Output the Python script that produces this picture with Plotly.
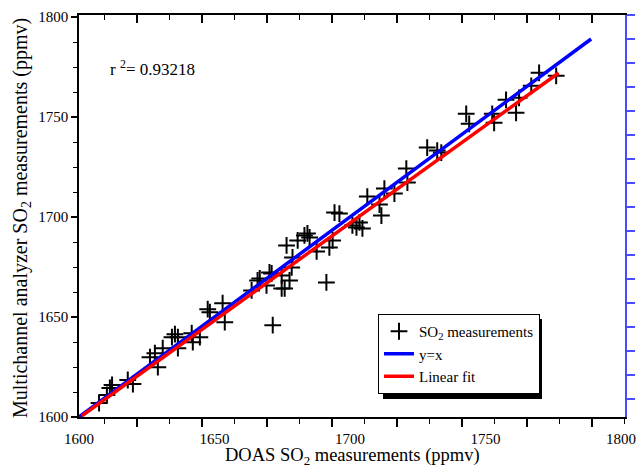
import plotly.graph_objects as go

# DOAS (x) vs multichannel analyzer (y) SO2 measurements, ppmv
doas_so2 = [1607.4, 1610.3, 1611.4, 1612.2, 1618.0, 1619.9, 1626.2, 1628.0, 1629.1, 1630.9,
            1634.3, 1635.4, 1636.5, 1636.5, 1641.6, 1642.0, 1644.6, 1647.5, 1648.3, 1653.0,
            1653.8, 1671.5, 1663.7, 1665.9, 1666.7, 1669.2, 1670.3, 1671.1, 1674.8, 1674.8,
            1675.9, 1677.7, 1678.5, 1676.6, 1678.8, 1680.7, 1683.2, 1684.3, 1685.1, 1687.7,
            1691.3, 1692.4, 1693.6, 1694.3, 1696.1, 1700.9, 1702.4, 1703.5, 1704.6, 1706.4,
            1710.9, 1711.6, 1712.7, 1716.4, 1720.8, 1721.2, 1728.5, 1732.2, 1733.7, 1742.9,
            1744.0, 1752.5, 1753.2, 1757.6, 1761.3, 1762.4, 1766.9, 1769.8, 1776.1]
analyzer_so2 = [1607.0, 1611.0, 1614.5, 1616.0, 1618.5, 1616.5, 1629.9, 1631.9, 1624.9, 1634.4,
                1639.9, 1641.4, 1639.9, 1634.4, 1641.9, 1637.4, 1639.9, 1653.9, 1652.4, 1656.9,
                1647.4, 1645.9, 1663.3, 1668.3, 1669.3, 1665.8, 1672.3, 1671.8, 1670.8, 1664.3,
                1664.3, 1668.3, 1674.8, 1685.8, 1679.8, 1688.3, 1690.8, 1691.8, 1689.8, 1682.8,
                1667.3, 1684.8, 1688.3, 1702.2, 1701.7, 1695.8, 1694.8, 1697.3, 1694.3, 1710.2,
                1706.2, 1700.7, 1714.2, 1711.7, 1724.2, 1717.2, 1734.7, 1733.2, 1732.2, 1751.6,
                1746.6, 1751.6, 1747.1, 1758.6, 1752.1, 1759.6, 1765.6, 1772.1, 1770.6]

# reference lines (end points)
yx_x = [1600, 1789]
yx_y = [1600, 1789]
fit_x = [1601, 1777]
fit_y = [1600.5, 1772]

r2_text = "r <sup>2</sup>= 0.93218"
x_title = "DOAS SO<sub>2</sub> measurements (ppmv)"
y_title = "Multichannel analyzer SO<sub>2</sub> measurements (ppmv)"
tick_vals = [1600, 1650, 1700, 1750, 1800]
tick_text = ["1600", "1650", "1700", "1750", "1800"]

FONT = "Liberation Serif, Times New Roman, serif"
PW, PH, L, B = 546, 402, 79, 51   # plot area size and margins (px)
LEG_L, LEG_T, LEG_W, LEG_H, SH = 378, 314, 159, 80, 5   # legend box and shadow offset (px)

fig = go.Figure()
fig.add_trace(go.Scatter(x=doas_so2, y=analyzer_so2, mode="markers",
                         name="SO<sub>2</sub> measurements",
                         marker=dict(symbol="cross-thin", size=12, color="black",
                                     line=dict(width=2, color="black"))))
fig.add_trace(go.Scatter(x=yx_x, y=yx_y, mode="lines", name="y=x",
                         line=dict(color="#0000ff", width=3.5)))
fig.add_trace(go.Scatter(x=fit_x, y=fit_y, mode="lines", name="Linear fit",
                         line=dict(color="#ff0000", width=3.5)))
# empty traces to register the decorative tick axes
fig.add_trace(go.Scatter(x=[], y=[], xaxis="x2", yaxis="y", showlegend=False, hoverinfo="skip"))
fig.add_trace(go.Scatter(x=[], y=[], xaxis="x3", yaxis="y", showlegend=False, hoverinfo="skip"))
fig.add_trace(go.Scatter(x=[], y=[], xaxis="x", yaxis="y2", showlegend=False, hoverinfo="skip"))

fig.update_layout(
    width=636, height=468,
    margin=dict(l=L, r=11, t=15, b=B, autoexpand=False),
    paper_bgcolor="white", plot_bgcolor="white",
    font=dict(family=FONT, color="black"),
    showlegend=True,
    xaxis=dict(range=[1600, 1801.5], tickvals=tick_vals, ticktext=tick_text,
               ticks="outside", ticklen=7, tickcolor="rgba(0,0,0,0)",
               showline=True, linecolor="black", linewidth=1.5,
               showgrid=False, zeroline=False, automargin=False,
               tickfont=dict(size=15, family=FONT)),
    xaxis2=dict(overlaying="x", side="bottom", range=[-0.892, 7.508], dtick=1, tick0=0,
                ticks="outside", ticklen=9, tickwidth=1.5, tickcolor="black",
                minor=dict(dtick=0.5, tick0=0, ticks="outside", ticklen=6, tickwidth=1.2,
                           tickcolor="black"),
                showticklabels=False, showline=False, showgrid=False, zeroline=False,
                automargin=False),
    xaxis3=dict(overlaying="x", side="top", range=[-0.892, 7.508], dtick=1, tick0=0,
                ticks="inside", ticklen=8, tickwidth=1.5, tickcolor="black",
                minor=dict(dtick=0.5, tick0=0, ticks="inside", ticklen=5, tickwidth=1.2,
                           tickcolor="black"),
                showticklabels=False, showline=True, linecolor="black", linewidth=1.5,
                showgrid=False, zeroline=False, automargin=False),
    yaxis=dict(range=[1600, 1801], tickvals=tick_vals, ticktext=tick_text,
               ticks="outside", ticklen=6, tickwidth=1.5, tickcolor="black",
               minor=dict(dtick=12.5, tick0=1600, ticks="outside", ticklen=4,
                          tickwidth=1.2, tickcolor="black"),
               showline=True, linecolor="black", linewidth=1.5,
               showgrid=False, zeroline=False, automargin=False,
               tickfont=dict(size=15, family=FONT)),
    yaxis2=dict(overlaying="y", side="right", range=[-0.75, 16.0], dtick=1, tick0=0,
                ticks="outside", ticklen=8, tickwidth=1.5, tickcolor="#4a4aff",
                showticklabels=False, showline=True, linecolor="#4a4aff", linewidth=2,
                showgrid=False, zeroline=False, automargin=False),
    legend=dict(x=(LEG_L - L) / PW, y=(417 - LEG_T) / PH, xanchor="left", yanchor="top",
                bgcolor="white", bordercolor="black", borderwidth=1,
                font=dict(size=15, family=FONT), tracegroupgap=0,
                itemwidth=30),
    annotations=[
        dict(text=r2_text, x=(108 - L) / PW, y=(417 - 68) / PH, xref="paper", yref="paper",
             xanchor="left", yanchor="middle", showarrow=False,
             font=dict(size=17, family=FONT)),
        dict(text=x_title, x=(352 - L) / PW, y=(417 - 456) / PH, xref="paper", yref="paper",
             xanchor="center", yanchor="middle", showarrow=False,
             font=dict(size=18.5, family=FONT)),
        dict(text=y_title, x=(21 - L) / PW, y=(417 - 218) / PH, xref="paper", yref="paper",
             xanchor="center", yanchor="middle", showarrow=False, textangle=-90,
             font=dict(size=20, family=FONT)),
    ],
    shapes=[dict(type="rect", xref="paper", yref="paper",
                 x0=(LEG_L + SH - L) / PW, x1=(LEG_L + LEG_W + SH - L) / PW,
                 y0=(417 - (LEG_T + LEG_H + SH)) / PH, y1=(417 - (LEG_T + SH)) / PH,
                 fillcolor="black", line=dict(width=0), layer="above")],
)

fig.write_html("out.html", config={"displayModeBar": False},
               post_script="document.body.style.margin='0';document.body.style.padding='0';")
